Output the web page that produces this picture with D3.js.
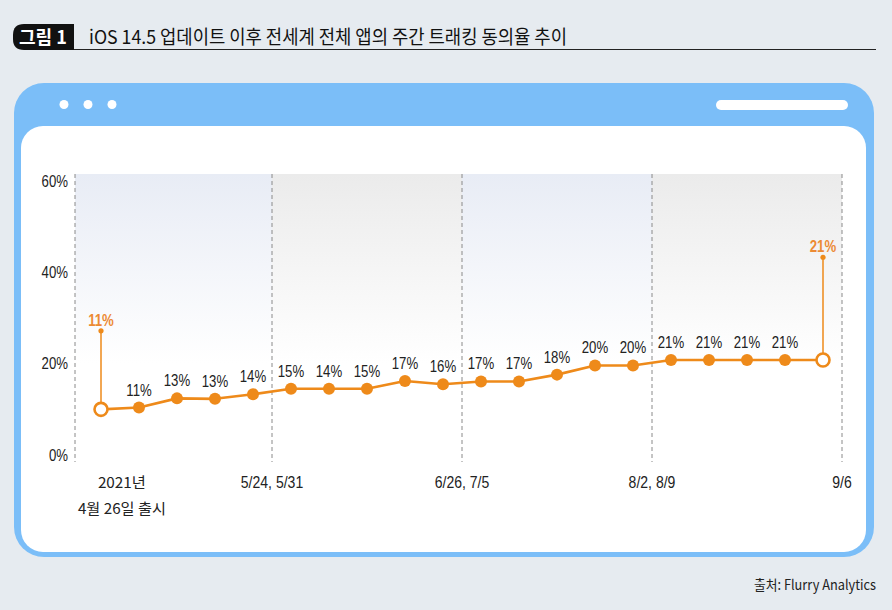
<!DOCTYPE html>
<html><head><meta charset="utf-8">
<script src="https://cdn.jsdelivr.net/npm/d3@7"></script>
<style>
html,body{margin:0;padding:0;background:#e6ebf0;}
svg{display:block;}
</style></head>
<body>
<script>
// ---- data ----
const weeks = ["4/26","5/3","5/10","5/17","5/24","5/31","6/7","6/14","6/21","6/28","7/5","7/12","7/19","7/26","8/2","8/9","8/16","8/23","8/30","9/6"];
const values = [10.0,10.4,12.4,12.3,13.3,14.5,14.5,14.5,16.2,15.5,16.1,16.1,17.6,19.6,19.6,20.8,20.8,20.8,20.8,20.8];
const pointLabels = ["11%","11%","13%","13%","14%","15%","14%","15%","17%","16%","17%","17%","18%","20%","20%","21%","21%","21%","21%","21%"];
const calloutIdx = [0, 19];
const calloutTop = [27.2, 43.3];
const yTicks = [0, 20, 40, 60];
const dividerAfter = [4, 9, 14, 19];           // dividers sit after these weeks
const dividerLabels = ["5/24, 5/31", "6/26, 7/5", "8/2, 8/9", "9/6"];
const firstLabel = ["2021년", "4월 26일 출시"];
const title = "iOS 14.5 업데이트 이후 전세계 전체 앱의 주간 트래킹 동의율 추이";
const source = "출처: Flurry Analytics";

const W = 892, H = 610;
const orange = "#ee8a1a";
const NARROW = "'Liberation Sans',Arial,sans-serif";
const KR = "'Noto Sans CJK KR','Liberation Sans',sans-serif";

const svg = d3.select("body").append("svg").attr("width", W).attr("height", H);
const defs = svg.append("defs");

// condense text horizontally (narrow typeface look)
function condense(sel, f) {
  sel.each(function () {
    const w = this.getComputedTextLength();
    d3.select(this).attr("textLength", w * f).attr("lengthAdjust", "spacingAndGlyphs");
  });
}

// title
svg.append("path")
  .attr("d", "M74,24 L24,24 Q13,24 13,35 L13,39 Q13,50 24,50 L74,50 Z")
  .attr("fill", "#111");
svg.append("text").attr("x", 43).attr("y", 44).attr("text-anchor", "middle")
  .attr("fill", "#fff").attr("font-family", KR).attr("font-weight", 700)
  .attr("font-size", 18).attr("textLength", 48).attr("lengthAdjust", "spacingAndGlyphs")
  .text("그림 1");
svg.append("line").attr("x1", 74).attr("x2", 876).attr("y1", 49.5).attr("y2", 49.5)
  .attr("stroke", "#222").attr("stroke-width", 1);
svg.append("text").attr("x", 89).attr("y", 44)
  .attr("fill", "#111").attr("font-family", KR).attr("font-size", 19)
  .attr("textLength", 478).attr("lengthAdjust", "spacingAndGlyphs")
  .text(title);

// browser frame
svg.append("rect").attr("x", 14).attr("y", 83).attr("width", 860).attr("height", 474)
  .attr("rx", 30).attr("fill", "#7bbef8");
svg.append("rect").attr("x", 21).attr("y", 126).attr("width", 845).attr("height", 426)
  .attr("rx", 22).attr("fill", "#fff");
[64, 88, 112].forEach(cx => svg.append("circle").attr("cx", cx).attr("cy", 104.5).attr("r", 4.5).attr("fill", "#fff"));
svg.append("rect").attr("x", 716).attr("y", 100).attr("width", 132).attr("height", 10)
  .attr("rx", 5).attr("fill", "#fff");

// scales
const x = d3.scaleLinear().domain([0, weeks.length - 1]).range([101, 823]);
const y = d3.scaleLinear().domain([0, 60]).range([455, 181]);
const axisX = 75, plotTop = 174, plotBottom = 462;

// column gradients
const grads = [["gBlue", "#e8ecf5"], ["gGray", "#ebebeb"]];
grads.forEach(([id, c]) => {
  const g = defs.append("linearGradient").attr("id", id).attr("x1", 0).attr("x2", 0).attr("y1", 0).attr("y2", 1);
  g.append("stop").attr("offset", "0%").attr("stop-color", c);
  g.append("stop").attr("offset", "100%").attr("stop-color", "#fff");
});
const bounds = [axisX].concat(dividerAfter.map(i => (x(i) + x(i + 1)) / 2));
for (let k = 0; k < bounds.length - 1; k++) {
  svg.append("rect").attr("x", bounds[k]).attr("y", plotTop)
    .attr("width", bounds[k + 1] - bounds[k]).attr("height", y(20) - plotTop)
    .attr("fill", `url(#${grads[k % 2][0]})`);
}

// dashed vertical lines
bounds.forEach(bx => {
  svg.append("line").attr("x1", bx).attr("x2", bx).attr("y1", plotTop).attr("y2", plotBottom)
    .attr("stroke", "#8a8a8a").attr("stroke-width", 1).attr("stroke-dasharray", "4,3");
});

// y axis labels
const yAxis = d3.axisLeft(y).tickValues(yTicks).tickFormat(d => d + "%").tickSize(0).tickPadding(0);
const ya = svg.append("g").attr("transform", `translate(${axisX - 7},0)`).call(yAxis);
ya.select(".domain").remove();
ya.selectAll("text").attr("font-family", NARROW).attr("font-size", 16.5).attr("fill", "#222")
  .call(condense, 0.8);

// x labels
const lblY = 488;
svg.append("text").attr("x", x(0.55)).attr("y", lblY).attr("text-anchor", "middle")
  .attr("font-family", KR).attr("font-size", 15).attr("fill", "#222")
  .attr("textLength", 48).attr("lengthAdjust", "spacingAndGlyphs").text(firstLabel[0]);
svg.append("text").attr("x", x(0.55)).attr("y", lblY + 26).attr("text-anchor", "middle")
  .attr("font-family", KR).attr("font-size", 15).attr("fill", "#222")
  .attr("textLength", 88).attr("lengthAdjust", "spacingAndGlyphs").text(firstLabel[1]);
dividerLabels.forEach((t, i) => {
  svg.append("text").attr("x", bounds[i + 1]).attr("y", lblY).attr("text-anchor", "middle")
    .attr("font-family", NARROW).attr("font-size", 16.5).attr("fill", "#222").text(t)
    .call(condense, 0.85);
});

// callouts
calloutIdx.forEach((idx, k) => {
  const cx = x(idx);
  svg.append("line").attr("x1", cx).attr("x2", cx).attr("y1", y(values[idx])).attr("y2", y(calloutTop[k]))
    .attr("stroke", orange).attr("stroke-width", 1.5);
  svg.append("circle").attr("cx", cx).attr("cy", y(calloutTop[k])).attr("r", 2.6).attr("fill", orange);
  svg.append("text").attr("x", cx).attr("y", y(calloutTop[k]) - 5).attr("text-anchor", "middle")
    .attr("font-family", NARROW).attr("font-size", 16.5).attr("font-weight", 700)
    .attr("fill", "#ec8a33").text(pointLabels[idx])
    .call(condense, 0.8);
});

// line
const line = d3.line().x((d, i) => x(i)).y(d => y(d));
svg.append("path").datum(values).attr("d", line).attr("fill", "none")
  .attr("stroke", orange).attr("stroke-width", 2.6).attr("stroke-linejoin", "round");

// points
values.forEach((v, i) => {
  if (calloutIdx.includes(i)) {
    svg.append("circle").attr("cx", x(i)).attr("cy", y(v)).attr("r", 6.5)
      .attr("fill", "#fff").attr("stroke", orange).attr("stroke-width", 2.6);
  } else {
    svg.append("circle").attr("cx", x(i)).attr("cy", y(v)).attr("r", 6).attr("fill", orange);
    svg.append("text").attr("x", x(i)).attr("y", y(v) - 12).attr("text-anchor", "middle")
      .attr("font-family", NARROW).attr("font-size", 16.5).attr("fill", "#222").text(pointLabels[i])
      .call(condense, 0.8);
  }
});

// source
svg.append("text").attr("x", 876).attr("y", 590).attr("text-anchor", "end")
  .attr("font-family", KR).attr("font-size", 14).attr("fill", "#222")
  .attr("textLength", 122).attr("lengthAdjust", "spacingAndGlyphs").text(source);
</script>
</body></html>
